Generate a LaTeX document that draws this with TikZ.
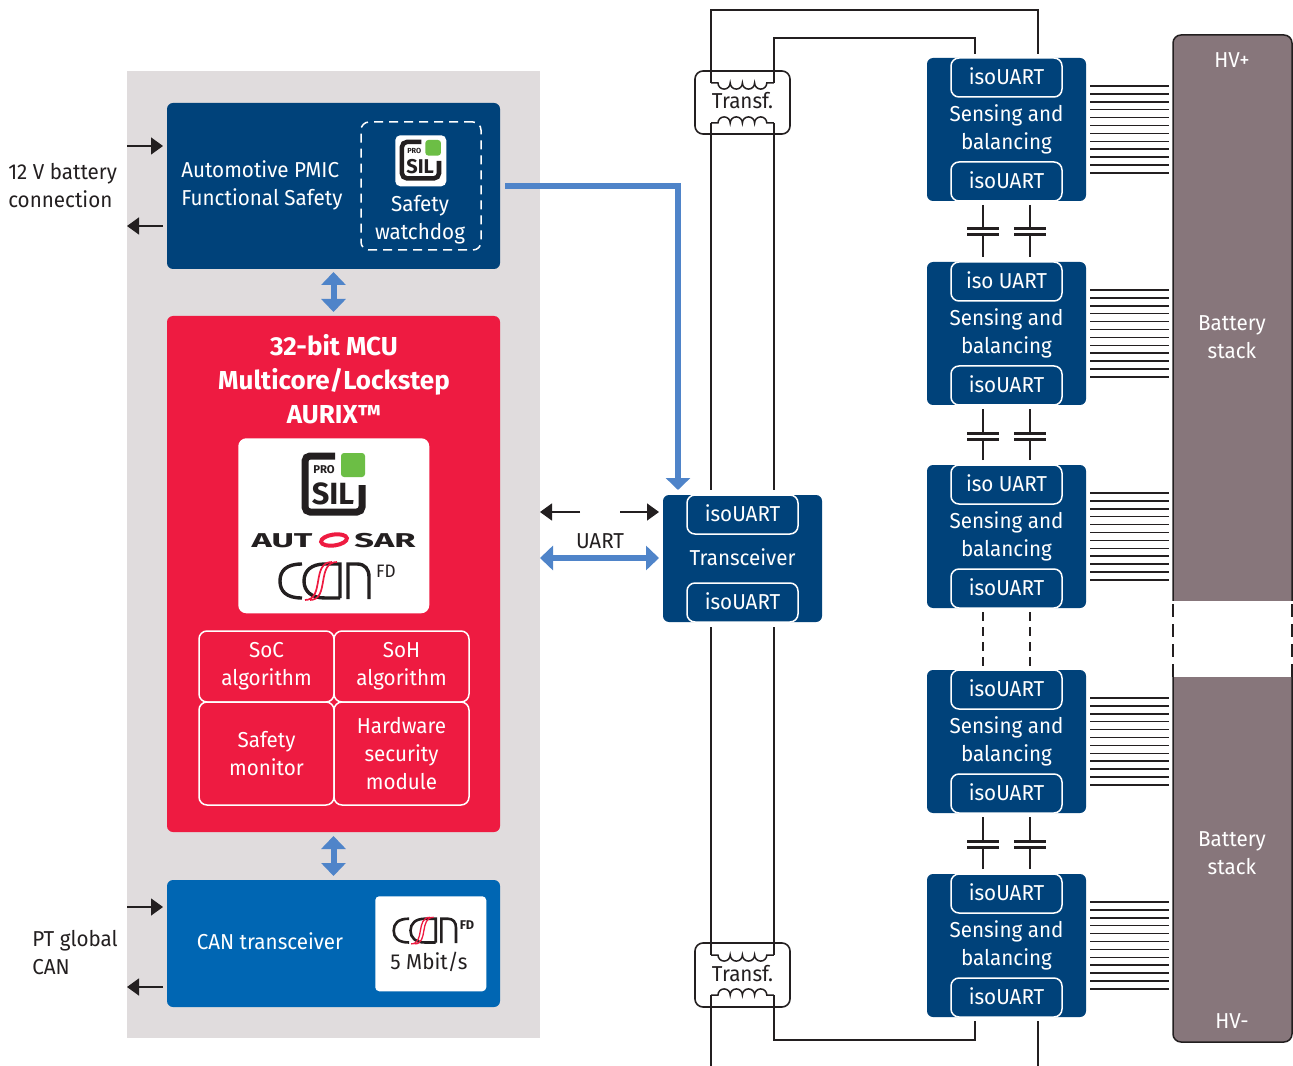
\documentclass[tikz,border=0pt]{standalone}
\usepackage{fontspec}
\setmainfont[FakeStretch=0.955, BoldFeatures={FakeStretch=1}]{Fira Sans}
\usetikzlibrary{positioning,calc,arrows.meta}

\definecolor{panelgray}{HTML}{E0DCDD}
\definecolor{navyblue}{HTML}{00427A}
\definecolor{canblue}{HTML}{0066B3}
\definecolor{mcured}{HTML}{EE1B41}
\definecolor{stackbrown}{HTML}{87767B}
\definecolor{linkblue}{HTML}{4F84C9}
\definecolor{silgreen}{HTML}{6CBE45}
\definecolor{wireblack}{HTML}{231F20}

\def\px{0.75pt}
\newcommand{\txt}{\fontsize{16.2}{21}\selectfont}

\tikzset{
    block/.style={fill=#1, rounded corners=6*\px, inner sep=0, outer sep=0, anchor=north west},
    isobox/.style={draw=white, fill=navyblue, line width=1.5*\px, rounded corners=8*\px, text=white, font=\txt,
        minimum width=111*\px, minimum height=39*\px, inner sep=0, outer sep=0, text depth=2.5*\px},
    algobox/.style={draw=white, line width=1.5*\px, rounded corners=8*\px, text=white, font=\txt, align=center,
        inner sep=0, outer sep=0, anchor=north west},
    whitetxt/.style={text=white, font=\txt, align=center, inner sep=0},
    darktxt/.style={text=wireblack, font=\txt, align=center, inner sep=0},
    wire/.style={draw=wireblack, line width=1.5*\px},
    sigarrow/.style={wire, -{Triangle[width=17*\px,length=12*\px]}},
    linkarrow/.style={draw=linkblue, line width=6*\px, {Triangle[width=24*\px,length=13*\px]}-{Triangle[width=24*\px,length=13*\px]}},
    transbox/.style={draw=wireblack, line width=1.6*\px, rounded corners=8*\px, minimum width=95*\px, inner sep=0, outer sep=0,
        anchor=north west, text=wireblack, font=\txt, text depth=4*\px},
}

% x y scale
\newcommand{\silmark}[3]{
    \begin{scope}[shift={(#1,#2)}, scale=#3, every node/.style={transform shape, inner sep=0, text=wireblack}]
        \draw[wireblack, line width=#3*7*\px, rounded corners=5*\px] (33,3) -- (3,3) -- (3,59) -- (60,59) -- (60,32);
        \fill[silgreen, rounded corners=3*\px] (39,0) rectangle (63,24);
        \node[font=\fontsize{8.5}{10}\bfseries\selectfont] at (22,17) {PRO};
        \node[font=\fontsize{23}{26}\bfseries\selectfont] at (31,41) {SIL};
    \end{scope}
}
% x y scale linewidth
\newcommand{\canmark}[4]{
    \begin{scope}[shift={(#1,#2)}, scale=#3]
        \draw[wireblack, line width=#4*\px] (23,1) .. controls (7,1) and (1,8) .. (1,18) .. controls (1,28) and (7,35) .. (23,35);
        \draw[wireblack, line width=#4*\px] (61,35) -- (61,1) -- (46,1) .. controls (32,1) and (25,8) .. (25,18) .. controls (25,28) and (32,35) .. (46,35) -- (61,35);
        \draw[wireblack, line width=#4*\px] (69,36) -- (69,1) -- (78,1) .. controls (86,1) and (90,6) .. (90,14) -- (90,36);
        \draw[mcured, line width=0.5*#4*\px] (26,37) .. controls (46,37) and (32,-1) .. (53,-1);
        \draw[mcured, line width=0.5*#4*\px] (31,37) .. controls (51,37) and (37,-1) .. (58,-1);
    \end{scope}
}
% x y flip
\newcommand{\coilwire}[3]{
    \draw[wire] (#1,#2) -- ++(7,0) arc[start angle=180, end angle=#3, radius=6.1]
        arc[start angle=180, end angle=#3, radius=6.1]
        arc[start angle=180, end angle=#3, radius=6.1]
        arc[start angle=180, end angle=#3, radius=6.1] -- ++(7,0);
}

\begin{document}
\begin{tikzpicture}[x=0.75pt, y=-0.75pt]
        \useasboundingbox (0,0) rectangle (1293,1066);

        \node[block=panelgray, rounded corners=0, minimum width=413*\px, minimum height=967*\px] (ecu) at (127,71) {};

        \node[block=navyblue, minimum width=333*\px, minimum height=166*\px] (pmic) at (167,103) {};
        \node[whitetxt, align=left, anchor=west] (pmictxt) at (181,185) {Automotive PMIC\\Functional Safety};
        \node[draw=white, dash pattern=on 9*\px off 6*\px, line width=1.5*\px, rounded corners=8*\px, inner sep=0, outer sep=0,
            minimum width=120*\px, minimum height=128*\px, anchor=north west] (wdog) at (361,122) {};
        \node[fill=white, rounded corners=5*\px, minimum width=51*\px, minimum height=51*\px, inner sep=0, anchor=north west] (silbg) at (395,135) {};
        \silmark{400}{140}{0.65}
        \node[whitetxt] (wdogtxt) at (420,220) {Safety\\watchdog};

        \node[block=mcured, minimum width=333*\px, minimum height=516*\px] (mcu) at (167,316) {};
        \node[whitetxt, font=\fontsize{19.5}{25.5}\bfseries\selectfont] (mcutxt) at (334,379) {32-bit MCU\\Multicore/Lockstep\\AURIX™};
        \node[fill=white, rounded corners=8*\px, minimum width=191*\px, minimum height=175*\px, inner sep=0, anchor=north west] (logos) at (238,438) {};
        \silmark{302}{453}{1}
        \node[inner sep=0, text=wireblack, font=\fontsize{15}{15}\bfseries\selectfont] (autleft) at (282,541) {\scalebox{1.72}[1]{AUT}};
        \node[inner sep=0, text=wireblack, font=\fontsize{15}{15}\bfseries\selectfont] (autright) at (385,541) {\scalebox{1.72}[1]{SAR}};
        \draw[mcured, line width=4*\px, rotate around={8:(334,540)}] (334,540) ellipse (13 and 5.5);
        \canmark{279}{563}{1}{3.4}
        \node[darktxt, font=\fontsize{13.5}{15}\selectfont] (fdbig) at (386,571) {FD};

        \node[algobox, minimum width=135*\px, minimum height=71*\px] (soc) at (199,631) {SoC\\algorithm};
        \node[algobox, minimum width=135*\px, minimum height=71*\px] (soh) at (334,631) {SoH\\algorithm};
        \node[algobox, minimum width=135*\px, minimum height=103*\px] (safety) at (199,702) {Safety\\monitor};
        \node[algobox, minimum width=135*\px, minimum height=103*\px] (hsm) at (334,702) {Hardware\\security\\module};

        \node[block=canblue, minimum width=333*\px, minimum height=127*\px] (can) at (167,880) {};
        \node[whitetxt] (cantxt) at (270,941) {CAN transceiver};
        \node[fill=white, rounded corners=4*\px, minimum width=111*\px, minimum height=95*\px, inner sep=0, anchor=north west] (canbg) at (375,896) {};
        \canmark{393}{918}{0.7}{2.6}
        \node[darktxt, font=\fontsize{9.5}{11}\bfseries\selectfont] (fdsmall) at (467,925) {FD};
        \node[darktxt] (mbit) at (429,962) {5 Mbit/s};

        \draw[linkarrow] ($(pmic.south)+(0,3)$) -- ($(mcu.north)+(0,-4)$);
        \draw[linkarrow] ($(mcu.south)+(0,4)$) -- ($(can.north)+(0,-4)$);

        \node[darktxt, align=left, anchor=west] (batttxt) at (8,186) {12 V battery\\connection};
        \node[darktxt, align=left, anchor=west] (pttxt) at (32,953) {PT global\\CAN};
        \coordinate (battin) at (127,146);
        \coordinate (battout) at (163,226);
        \coordinate (ptin) at (127,907);
        \coordinate (ptout) at (163,987);
        \draw[sigarrow] (battin) -- ++(36,0);
        \draw[sigarrow] (battout) -- ++(-36,0);
        \draw[sigarrow] (ptin) -- ++(36,0);
        \draw[sigarrow] (ptout) -- ++(-36,0);

        \node[block=navyblue, minimum width=159*\px, minimum height=127*\px] (trx) at (663,495) {};
        \node[isobox, anchor=north] (trxtop) at (trx.north) {isoUART};
        \node[isobox, anchor=south] (trxbot) at (trx.south) {isoUART};
        \node[whitetxt] (trxtxt) at ($(trx.center)+(0,-1)$) {Transceiver};

        \coordinate (uartl) at (540,512);
        \coordinate (uartr) at (659,512);
        \draw[sigarrow] ($(uartl)+(40,0)$) -- (uartl);
        \draw[sigarrow] ($(uartr)+(-39,0)$) -- (uartr);
        \coordinate (linkl) at (540,558);
        \draw[linkarrow] (linkl) -- ($(trx.west |- linkl)+(-4,0)$);
        \node[darktxt] (uarttxt) at (600,541) {UART};

        \draw[draw=linkblue, line width=5.5*\px, -{Triangle[width=24*\px,length=12*\px]}]
            ($(pmic.east)+(5,0)$) -| ($(trx.north west)+(15,-5)$);

        \foreach \i/\y/\lab in {1/58/isoUART, 2/262/iso UART, 3/465/iso UART, 4/670/isoUART, 5/874/isoUART} {
            \node[block=navyblue, minimum width=159*\px, minimum height=143*\px] (m\i) at (927,\y) {};
            \node[isobox, anchor=north] (m\i top) at (m\i.north) {\lab};
            \node[isobox, anchor=south] (m\i bot) at (m\i.south) {isoUART};
            \node[whitetxt] (m\i txt) at (m\i.center) {Sensing and\\balancing};
            \foreach \k in {0,...,11}
                \draw[wire] ($(m\i.north east)+(4,28+7.9*\k)$) -- ++(79,0);
        }

        \foreach \a/\b in {1/2,2/3,4/5}
            \foreach \dx in {56,103} {
                \draw[wire] ($(m\a.south west)+(\dx,4)$) -- ($(m\a.south west)+(\dx,29)$);
                \draw[wire] ($(m\b.north west)+(\dx,-5)$) -- ($(m\b.north west)+(\dx,-27)$);
                \draw[wire, line width=3*\px] ($(m\a.south west)+(\dx-16,28)$) -- ++(32,0);
                \draw[wire, line width=3*\px] ($(m\a.south west)+(\dx-16,34)$) -- ++(32,0);
            }
        \foreach \dx in {56,103}
            \draw[wire, dash pattern=on 9*\px off 6*\px] ($(m3.south west)+(\dx,4)$) -- ($(m4.north west)+(\dx,-4)$);

        \node[transbox, minimum height=63*\px] (tf1) at (695,71) {Transf.};
        \node[transbox, minimum height=64*\px] (tf2) at (695,943) {Transf.};
        \coilwire{711}{83}{0}
        \coilwire{711}{123}{360}
        \coilwire{711}{955}{0}
        \coilwire{711}{995}{360}

        \coordinate (tf1a) at (711,83);
        \coordinate (tf1b) at (774,83);
        \coordinate (tf1c) at (711,123);
        \coordinate (tf1d) at (774,123);
        \coordinate (tf2a) at (711,955);
        \coordinate (tf2b) at (774,955);
        \coordinate (tf2c) at (711,995);
        \coordinate (tf2d) at (774,995);
        \coordinate (endl) at (711,1066);
        \coordinate (endr) at (1038,1066);

        \draw[wire] ($(m1.north west)+(111,-4)$) |- (711,10) -- (tf1a);
        \draw[wire] ($(m1.north west)+(48,-4)$) |- (774,38) -- (tf1b);
        \draw[wire] (tf1c) -- ($(trx.north west)+(48,-5)$);
        \draw[wire] (tf1d) -- ($(trx.north west)+(111,-5)$);
        \draw[wire] ($(trx.south west)+(48,5)$) -- (tf2a);
        \draw[wire] ($(trx.south west)+(111,5)$) -- (tf2b);
        \draw[wire] (tf2c) -- (endl);
        \draw[wire] (tf2d) |- (975,1040) -- ($(m5.south west)+(48,4)$);
        \draw[wire] ($(m5.south west)+(111,4)$) -- (endr);

        \node[draw=wireblack, fill=stackbrown, line width=1.5*\px, rounded corners=8*\px, minimum width=119*\px, minimum height=1007*\px,
            inner sep=0, outer sep=0, anchor=north west] (stack) at (1173,35) {};
        \node[fill=white, minimum width=123*\px, minimum height=76*\px, inner sep=0, anchor=north west] (gap) at (1171,601) {};
        \draw[wire, dash pattern=on 13*\px off 7*\px] ($(stack.west |- gap.north)+(0,3)$) -- (stack.west |- gap.south);
        \draw[wire, dash pattern=on 13*\px off 7*\px] ($(stack.east |- gap.north)+(0,3)$) -- (stack.east |- gap.south);
        \node[whitetxt] (hvp) at (1232,60) {HV+};
        \node[whitetxt] (stacka) at (1232,337) {Battery\\stack};
        \node[whitetxt] (stackb) at (1232,853) {Battery\\stack};
        \node[whitetxt] (hvm) at (1232,1021) {HV-};
\end{tikzpicture}
\end{document}
